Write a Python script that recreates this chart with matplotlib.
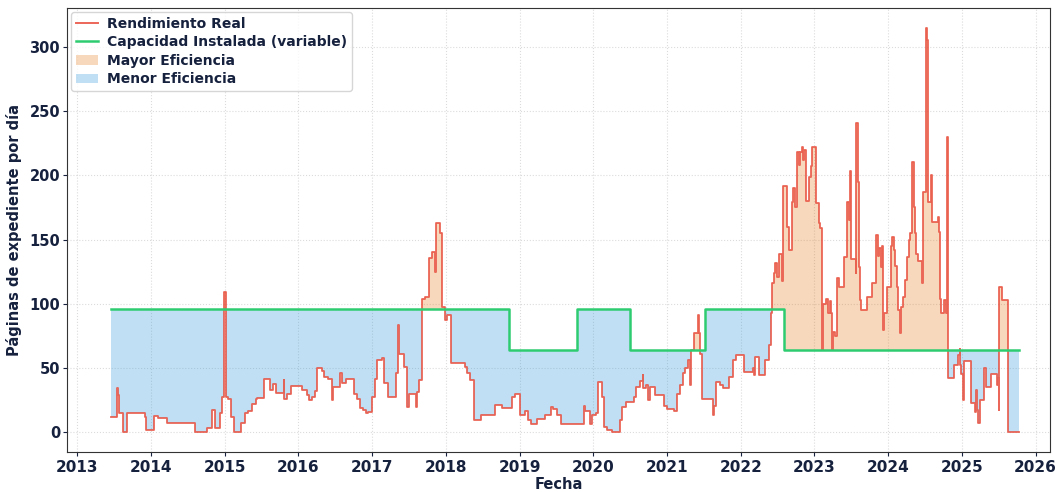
import numpy as np
import pandas as pd
import matplotlib
matplotlib.use("Agg")
import matplotlib.pyplot as plt
import matplotlib.dates as mdates
from matplotlib.patches import Patch
from matplotlib.lines import Line2D

# Real performance: breakpoints (fractional year) and value held until next breakpoint
rend_t = [2013.46, 2013.53, 2013.55, 2013.57, 2013.62, 2013.67, 2013.74, 2013.91, 2013.93, 2014.04,
          2014.10, 2014.22, 2014.59, 2014.76, 2014.83, 2014.87, 2014.94, 2014.96, 2014.99, 2015.02,
          2015.04, 2015.08, 2015.12, 2015.22, 2015.27, 2015.32, 2015.37, 2015.42, 2015.44, 2015.53,
          2015.61, 2015.65, 2015.69, 2015.80, 2015.81, 2015.85, 2015.90, 2016.05, 2016.12, 2016.14,
          2016.18, 2016.23, 2016.25, 2016.32, 2016.35, 2016.40, 2016.46, 2016.47, 2016.57, 2016.59,
          2016.64, 2016.75, 2016.79, 2016.84, 2016.88, 2016.92, 2016.95, 2017.00, 2017.04, 2017.07,
          2017.13, 2017.16, 2017.22, 2017.32, 2017.35, 2017.36, 2017.43, 2017.47, 2017.50, 2017.59,
          2017.61, 2017.64, 2017.67, 2017.72, 2017.77, 2017.81, 2017.85, 2017.87, 2017.92, 2017.94,
          2017.99, 2018.02, 2018.07, 2018.26, 2018.29, 2018.33, 2018.38, 2018.48, 2018.66, 2018.76,
          2018.90, 2018.94, 2019.01, 2019.08, 2019.12, 2019.16, 2019.24, 2019.35, 2019.42, 2019.46,
          2019.51, 2019.56, 2019.87, 2019.89, 2019.96, 2019.98, 2020.04, 2020.06, 2020.12, 2020.14,
          2020.19, 2020.25, 2020.37, 2020.39, 2020.44, 2020.55, 2020.58, 2020.64, 2020.67, 2020.68,
          2020.71, 2020.75, 2020.77, 2020.84, 2020.96, 2021.00, 2021.09, 2021.14, 2021.18, 2021.21,
          2021.25, 2021.29, 2021.31, 2021.33, 2021.36, 2021.42, 2021.44, 2021.45, 2021.48, 2021.62,
          2021.64, 2021.67, 2021.72, 2021.76, 2021.84, 2021.89, 2021.93, 2022.04, 2022.16, 2022.18,
          2022.20, 2022.25, 2022.33, 2022.38, 2022.41, 2022.43, 2022.45, 2022.47, 2022.49, 2022.52,
          2022.56, 2022.58, 2022.63, 2022.65, 2022.69, 2022.71, 2022.73, 2022.76, 2022.79, 2022.81,
          2022.83, 2022.85, 2022.86, 2022.88, 2022.92, 2022.95, 2022.97, 2023.02, 2023.06, 2023.08,
          2023.11, 2023.12, 2023.16, 2023.18, 2023.21, 2023.23, 2023.24, 2023.25, 2023.28, 2023.31,
          2023.34, 2023.40, 2023.44, 2023.47, 2023.49, 2023.50, 2023.56, 2023.57, 2023.59, 2023.61,
          2023.62, 2023.63, 2023.71, 2023.78, 2023.83, 2023.84, 2023.86, 2023.88, 2023.90, 2023.92,
          2023.93, 2023.95, 2023.99, 2024.04, 2024.05, 2024.08, 2024.10, 2024.12, 2024.14, 2024.16,
          2024.18, 2024.20, 2024.23, 2024.26, 2024.28, 2024.30, 2024.32, 2024.35, 2024.37, 2024.38,
          2024.41, 2024.46, 2024.47, 2024.48, 2024.51, 2024.53, 2024.54, 2024.59, 2024.60, 2024.68,
          2024.69, 2024.70, 2024.72, 2024.76, 2024.79, 2024.80, 2024.81, 2024.82, 2024.89, 2024.95,
          2024.97, 2024.98, 2024.99, 2025.01, 2025.03, 2025.12, 2025.13, 2025.18, 2025.19, 2025.21,
          2025.22, 2025.24, 2025.30, 2025.33, 2025.40, 2025.47, 2025.49, 2025.50, 2025.51, 2025.54,
          2025.63]
rend_v = [12, 34, 29, 15, 0, 14.5, 15, 12, 1.5, 12.5,
          11, 6.7, 0, 3, 17, 3, 15, 27.5, 109, 27.5,
          26, 12, 0, 6.7, 14.5, 16, 21.6, 25.5, 26.2, 41.6,
          32.7, 37.4, 30.6, 40.5, 26, 30, 35.8, 33, 28.8, 25,
          27, 31.6, 49.6, 47.5, 43, 41, 25, 35, 45.7, 38,
          41, 30, 26, 18.4, 17, 14.5, 15.5, 27, 41, 56,
          57.4, 38, 27.5, 45.7, 83.4, 61, 51, 19.7, 30, 19.7,
          31.4, 40.5, 103.4, 105.5, 135.3, 140.5, 125, 162.6, 154.8, 97.6,
          87, 91, 53.5, 51, 45.7, 40.5, 9.3, 13.2, 21, 18.4,
          27.5, 30, 13, 16, 9.3, 6.2, 10.4, 13, 19.7, 18,
          13, 6.2, 20.3, 16, 6.2, 13, 15, 39, 27, 4.2,
          1.5, 0, 9.3, 19.7, 23.6, 27.5, 35, 40, 44.4, 34,
          36.6, 25, 35, 29, 20, 18, 16.6, 30, 36.6, 45.7,
          49.6, 56, 36.6, 64, 77, 91, 77, 61, 26, 13,
          20, 39, 36.6, 34, 42.5, 56, 60, 47, 49.6, 44.5,
          58.7, 44.5, 56, 67.8, 92.5, 116, 124, 131.5, 121, 139,
          118, 192, 160, 142, 179.5, 190, 175, 218, 208, 218,
          222, 212, 220, 180, 198.5, 207.6, 222, 178.7, 162.5, 158.6,
          64, 100, 104, 92.5, 102, 92.5, 64, 78, 75, 119.7,
          113, 136.6, 179.5, 165, 203.6, 135, 123.7, 240.5, 195, 128.8,
          103, 95, 105.5, 116, 139, 153.5, 137, 143, 128.8, 145,
          79.5, 92.5, 113, 145, 152, 142, 129, 113, 95, 77.5,
          97.6, 105.5, 118.5, 136.6, 149.6, 154.8, 210.6, 175, 155, 139,
          133, 116, 139, 187, 314.6, 305.5, 179.5, 200, 164, 167.7,
          156, 104, 92.5, 103, 92.5, 230, 179.5, 42, 52, 60,
          65, 52, 45, 25, 55, 40, 22.7, 15.8, 32.7, 17,
          6.7, 25, 49.6, 35.3, 45, 36.6, 42, 17, 113, 103,
          0]
end_t = 2025.77

# Installed capacity (variable): change points and levels
cap_t = [2013.46, 2018.85, 2019.78, 2020.50, 2021.52, 2022.59]
cap_v = [96, 64, 96, 64, 96, 64]

x_ticks = list(range(2013, 2027))
y_ticks = [0, 50, 100, 150, 200, 250, 300]

# ---- build step series on a common grid ----
rt = np.array(rend_t); rv = np.array(rend_v, float)
ct = np.array(cap_t); cv = np.array(cap_v, float)
grid = np.unique(np.concatenate([rt, ct]))
r_at = rv[np.searchsorted(rt, grid, side="right") - 1]
c_at = cv[np.searchsorted(ct, grid, side="right") - 1]
xs, ys, cs = [], [], []
for i, t in enumerate(grid):
    if i > 0:
        xs.append(t); ys.append(r_at[i - 1]); cs.append(c_at[i - 1])
    xs.append(t); ys.append(r_at[i]); cs.append(c_at[i])
xs.append(end_t); ys.append(r_at[-1]); cs.append(c_at[-1])
xs = np.array(xs); ys = np.array(ys); cs = np.array(cs)


def fy_to_num(fy):
    out = []
    for f in np.atleast_1d(fy):
        yr = int(np.floor(f))
        d = pd.Timestamp(yr, 1, 1) + pd.Timedelta(days=(f - yr) * 365.25)
        out.append(mdates.date2num(d.to_pydatetime()))
    return np.array(out)


xd = fy_to_num(xs)

TXT = "#16213e"
RED = "#e74c3c"
GREEN = "#2ecc71"

plt.rcParams["font.family"] = ["DejaVu Sans"]
fig = plt.figure(figsize=(10.55, 4.92), dpi=100)
ax = fig.add_axes([0.0635, 0.081, 0.932, 0.903])

ax.fill_between(xd, ys, cs, where=ys >= cs, interpolate=True, color="#e67e22", alpha=0.3, linewidth=0)
ax.fill_between(xd, ys, cs, where=ys < cs, interpolate=True, color="#3498db", alpha=0.3, linewidth=0)
ax.plot(xd, ys, color=RED, lw=1.3, alpha=0.85)
ax.plot(xd, cs, color=GREEN, lw=1.8)

ax.set_xlim(fy_to_num([2012.86])[0], fy_to_num([2026.2])[0])
ax.set_ylim(-15.7, 330.5)
ax.set_xticks(fy_to_num(np.array(x_ticks, float)))
ax.set_xticklabels([str(v) for v in x_ticks])
ax.set_yticks(y_ticks)
ax.tick_params(axis="x", labelsize=11, colors=TXT, length=3, pad=3)
ax.tick_params(axis="y", labelsize=10.5, colors=TXT, length=3, pad=2)
for lab in ax.get_xticklabels() + ax.get_yticklabels():
    lab.set_fontweight("bold")
ax.grid(True, linestyle=":", color="#cccccc", linewidth=0.8, alpha=0.7)
ax.set_axisbelow(True)
ax.set_xlabel("Fecha", fontsize=10.5, fontweight="bold", color=TXT, labelpad=1)
ax.set_ylabel("Páginas de expediente por día", fontsize=10.5, fontweight="bold", color=TXT, labelpad=5)
for s in ax.spines.values():
    s.set_color("#333333")
    s.set_linewidth(0.8)

handles = [
    Line2D([], [], color=RED, lw=1.4, alpha=0.85),
    Line2D([], [], color=GREEN, lw=1.8),
    Patch(facecolor="#e67e22", alpha=0.3),
    Patch(facecolor="#3498db", alpha=0.3),
]
labels = ["Rendimiento Real", "Capacidad Instalada (variable)", "Mayor Eficiencia", "Menor Eficiencia"]
leg = ax.legend(handles, labels, loc="upper left", fontsize=10, frameon=True,
                borderpad=0.35, labelspacing=0.32, handlelength=1.6, handletextpad=0.6,
                borderaxespad=0.3)
for t in leg.get_texts():
    t.set_fontweight("bold")
    t.set_color(TXT)

fig.savefig("out.png", dpi=100)
